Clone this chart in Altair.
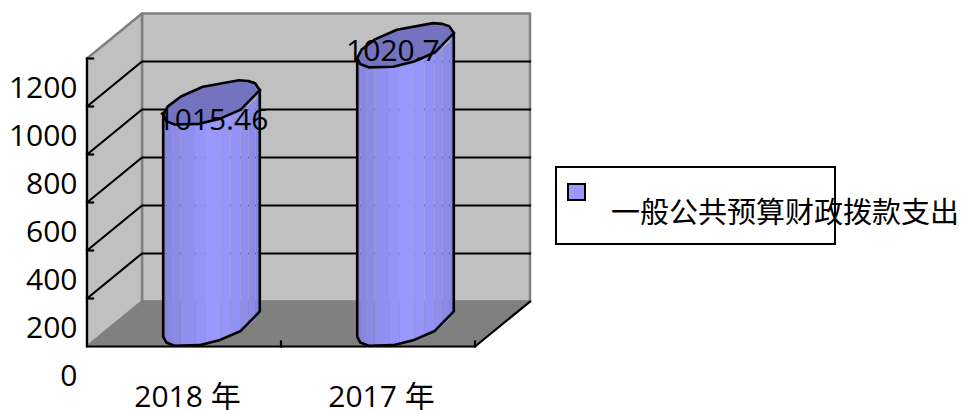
import math
import altair as alt
import pandas as pd

categories = ["2018 年", "2017 年"]
drawn_heights = [922, 1160]
value_labels = ["1015.46", "1020.7"]
label_levels = [941, 1229]
label_places = [0.649, 1.577]
series_name = "一般公共预算财政拨款支出"
y_ticks = [0, 200, 400, 600, 800, 1000, 1200]
grid_levels = [200, 400, 600, 800, 1000]
stripe_angles = [34, 10, -5, -18, -32, -45, -62, -75, -95, -110, -125, -146]
outline_front = [34, -18, -45, -70, -105, -125, -146]
outline_back = [-146, -170, 164, 135, 90, 75, 60, 34]

W, H = 950, 410
X0, Y0 = 79.0, 338.5
BAND, PXU = 194.0, 0.24
DX = 55 / BAND
DY = 45 / PXU
Y_TOP = 1200
RW = 39.7 / BAND
FONT = "Open Sans, Noto Sans CJK SC"
FS = 30

x_scale = alt.Scale(domain=[-X0 / BAND, (W - X0) / BAND], nice=False, zero=False)
y_scale = alt.Scale(domain=[(Y0 - H) / PXU, Y0 / PXU], nice=False, zero=False)

labels_expr = "datum.value < 1 ? '%s' : '%s'" % (categories[0], categories[1])
x_axis = alt.Axis(
    values=[0.5, 1.5], labelExpr=labels_expr, offset=-(H - 389), domain=False, ticks=False, grid=False,
    labelPadding=0, labelBaseline="middle", labelAlign="center", labelOffset=3, labelFlush=False,
    labelOverlap=False, labelFont=FONT, labelFontSize=FS, labelColor="#000000", title=None)
y_axis = alt.Axis(
    values=y_ticks, offset=-69, domain=False, ticks=False, grid=False, labelPadding=0,
    labelOffset=30, labelFlush=False, labelOverlap=False, labelFont=FONT, labelFontSize=FS,
    labelColor="#000000", format="d", title=None)
X = alt.X("x:Q", scale=x_scale, axis=x_axis)
Y = alt.Y("y:Q", scale=y_scale, axis=y_axis)


def poly(points, g=0):
    return [{"x": p[0], "y": p[1], "i": i, "g": g} for i, p in enumerate(points)]


def polygon_layer(rows, fill=None, stroke="#000000", width=2.2):
    kw = {"stroke": stroke, "strokeWidth": width, "strokeJoin": "round", "strokeCap": "square", "clip": False}
    if fill:
        kw["fill"] = fill
    return alt.Chart(pd.DataFrame(rows)).mark_line(**kw).encode(x=X, y=Y, detail="g:N", order="i:Q")


def ring(cx, cy, deg):
    t = math.radians(deg)
    return (cx + RW * math.cos(t) + (DX / 2) * math.sin(t), cy + (DY / 2) * math.sin(t))


back = polygon_layer(poly([(DX, DY), (2 + DX, DY), (2 + DX, DY + Y_TOP), (DX, DY + Y_TOP), (DX, DY)]),
                     fill="#c0c0c0", stroke="#808080", width=2.5)
side = polygon_layer(poly([(0, 0), (DX, DY), (DX, DY + Y_TOP), (0, Y_TOP), (0, 0)]),
                     fill="#c0c0c0", stroke="#808080", width=2.5)
floor = polygon_layer(poly([(0, 0), (2, 0), (2 + DX, DY), (DX, DY), (0, 0)]),
                      fill="#808080", stroke="#808080", width=1.5)

grid_rows = []
for k, v in enumerate(grid_levels):
    grid_rows += poly([(0, v), (DX, v + DY), (2 + DX, v + DY)], k)
grid = polygon_layer(grid_rows)

frame_rows = poly([(0, Y_TOP), (0, 0), (2, 0), (2 + DX, DY)], 0)
tick_len = 6 / BAND
for k, v in enumerate(y_ticks[1:]):
    frame_rows += poly([(0, v), (tick_len, v)], k + 1)
for k in (1, 2):
    frame_rows += poly([(k, 0), (k, 5 / PXU)], 10 + k)
frame = polygon_layer(frame_rows)

stripe_rows, top_rows, outline_rows = [], [], []
for b, h in enumerate(drawn_heights):
    cx = b + 0.5 + DX / 2
    cb = DY / 2
    ct = cb + h
    for s in range(len(stripe_angles) - 1):
        a1, a2 = stripe_angles[s], stripe_angles[s + 1]
        shade = 1 - 0.17 * abs((a1 + a2) / 2 + 50) / 95
        col = "#%02x%02x%02x" % (round(153 * shade), round(153 * shade), round(255 * shade))
        for a in (a1, a2):
            x, yt = ring(cx, ct, a)
            _, yb = ring(cx, cb, a)
            stripe_rows.append({"x": x, "y": yt, "y2": yb, "g": f"{b}-{s}", "c": col})
    top_pts = [ring(cx, ct, a) for a in outline_front + outline_back[1:]]
    top_rows += poly(top_pts, b)
    outline_pts = [ring(cx, ct, outline_front[-1])]
    outline_pts += [ring(cx, cb, a) for a in reversed(outline_front)]
    outline_pts += [ring(cx, ct, outline_front[0])]
    outline_rows += poly(outline_pts, b)

stripes = alt.Chart(pd.DataFrame(stripe_rows)).mark_area(orient="vertical", clip=False).encode(
    x=X, y=Y, y2="y2:Q", color=alt.Color("c:N", scale=None), detail="g:N",
)
outline = polygon_layer(outline_rows, width=2.6)
tops = polygon_layer(top_rows, fill="#7373bf", width=2.6)

label_df = pd.DataFrame({"x": label_places, "y": label_levels, "t": value_labels})
bar_labels = alt.Chart(label_df).mark_text(font=FONT, fontSize=30, color="#000000", baseline="middle").encode(
    x=X, y=Y, text="t:N",
)

legend_df = pd.DataFrame({"t": [series_name]})
legend_box = alt.Chart(legend_df).mark_rect(fill="#ffffff", stroke="#000000", strokeWidth=2).encode(
    x=alt.value(548), x2=alt.value(827), y=alt.value(159), y2=alt.value(236))
legend_swatch = alt.Chart(legend_df).mark_rect(fill="#9999ff", stroke="#000000", strokeWidth=2).encode(
    x=alt.value(560), x2=alt.value(577), y=alt.value(176), y2=alt.value(192))
legend_text = alt.Chart(legend_df).mark_text(font=FONT, fontSize=29, color="#000000", align="left", baseline="middle").encode(
    x=alt.value(603), y=alt.value(206), text="t:N")

chart = alt.layer(
    back, side, floor, grid, frame, stripes, outline, tops, bar_labels,
    legend_box, legend_swatch, legend_text,
).resolve_scale(x="shared", y="shared").properties(
    width=W, height=H, padding=0, autosize=alt.AutoSizeParams(type="none"), background="#ffffff"
).configure_view(stroke=None)

chart.save("out.html", embed_options={"renderer": "svg", "actions": False})
